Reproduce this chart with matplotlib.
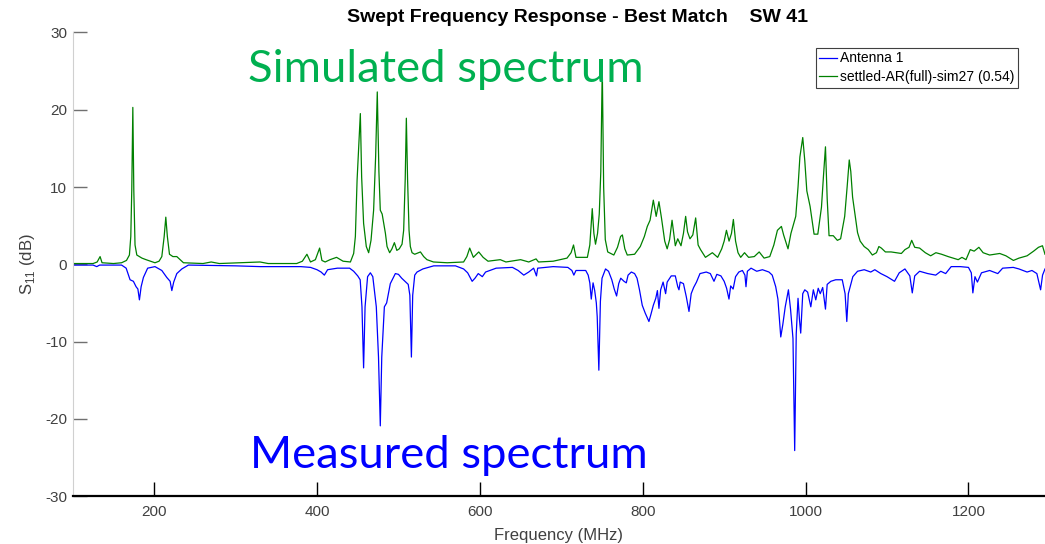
import numpy as np
import matplotlib.pyplot as plt

# Simulated S11 spectrum (frequency in MHz, level in dB)
sim_freq = [100, 125, 130, 133.6, 136, 150, 160, 166, 169.6, 171.3, 172.5, 173.8, 175, 176.5,
            178.7, 185, 190, 201, 206, 209.4, 212.3, 214.3, 216.2, 218.8, 223, 227.8, 232, 236,
            260, 270, 280, 330, 340, 375, 382, 387.6, 392, 398, 403.2, 406, 410, 416, 424, 432,
            441, 445, 447.1, 449.2, 453.2, 454.8, 457.2, 460.5, 463.4, 466.3, 469.5, 472, 474,
            476, 477.7, 480, 484, 486, 489.2, 492, 495, 498, 501, 504.4, 506.4, 508.3, 509.7,
            511.2, 513, 514.6, 516.7, 520, 527, 531, 535, 543, 560, 580, 584, 587.5, 592, 598.6,
            604, 610, 625, 632, 650, 660, 669, 672, 690, 707, 712, 715, 718, 732, 735, 738, 740,
            742, 744.5, 746.6, 748.5, 750.3, 752, 754, 757, 764.5, 769, 772.8, 775, 778, 781,
            790, 797, 802, 805.6, 809, 813, 816.5, 819.9, 823, 827, 830, 833, 836, 840, 843,
            847, 850, 852.7, 855, 858, 861.5, 865, 868, 871, 877, 885.5, 892, 897, 900, 902.8,
            906, 909, 911.3, 914, 917, 920.3, 925, 930, 937, 943, 949, 956, 961, 965.4, 970.3,
            973, 978.4, 982, 985, 987.9, 990.7, 993, 996.5, 999, 1001.5, 1005.5, 1010.4, 1015,
            1019.5, 1022, 1024.4, 1026.5, 1028.8, 1034, 1039, 1043, 1048, 1051, 1053.6, 1055.5,
            1057.7, 1060, 1063.8, 1067, 1071.9, 1077, 1082, 1087, 1090, 1093, 1098, 1105,
            1117.6, 1122, 1127, 1130.3, 1134, 1140, 1147, 1153.6, 1160, 1167, 1175, 1181,
            1187.4, 1192, 1197, 1202.2, 1207, 1212.8, 1218, 1226, 1238.4, 1246, 1255.2, 1262,
            1272, 1280, 1286, 1290.9, 1294]
sim_db = [0.1, 0.1, 0.3, 1.0, 0.2, 0.1, 0.2, 0.5, 1.2, 3.6, 9.6, 20.3, 9.6, 2.5,
          1.2, 0.8, 0.6, 0.2, 0.4, 1.0, 3.6, 6.1, 3.6, 1.3, 1.0, 1.0, 0.6, 0.2,
          0.1, 0.3, 0.1, 0.3, 0.1, 0.1, 0.4, 1.3, 0.3, 0.6, 2.1, 0.5, 0.3, 0.6, 0.9, 0.4,
          0.3, 1.4, 3.6, 10.9, 19.5, 11.3, 5.3, 2.3, 1.5, 3.1, 7.0, 14.0, 22.3,
          12.0, 7.0, 6.5, 4.0, 2.3, 1.5, 2.0, 2.8, 1.8, 2.0, 2.6, 4.4, 11.0, 18.9,
          11.0, 4.4, 2.3, 1.5, 1.3, 1.6, 1.0, 0.6, 0.3, 0.2, 0.3, 1.0, 2.1, 0.9, 1.6,
          0.9, 0.4, 0.6, 0.3, 0.6, 0.3, 0.7, 0.3, 0.4, 0.8, 1.5, 2.5, 0.9, 0.9, 2.5, 7.2, 4.0,
          2.6, 4.0, 6.5, 12.0, 25.5, 10.0, 3.2, 1.6, 1.2, 2.2, 3.6, 3.8, 2.0, 1.2,
          1.3, 2.3, 3.6, 4.9, 5.7, 8.3, 6.2, 8.1, 6.0, 3.0, 2.0, 3.2, 5.7, 2.4, 3.3,
          2.4, 4.0, 6.2, 4.2, 3.3, 3.8, 6.0, 2.5, 1.9, 0.9, 1.5, 0.9, 2.0, 3.0, 4.4,
          3.0, 4.0, 5.8, 3.0, 1.5, 0.9, 1.5, 0.9, 1.0, 1.6, 0.8, 1.0, 2.5, 4.4, 4.9,
          3.8, 2.0, 4.0, 5.1, 6.2, 10.0, 13.9, 16.4, 13.4, 9.5, 7.5, 3.9, 3.9,
          7.4, 11.5, 15.2, 8.5, 3.7, 3.7, 3.1, 3.3, 6.2, 10.0, 13.5, 12.0,
          8.7, 7.0, 4.1, 3.0, 2.3, 1.9, 1.2, 1.5, 2.3, 2.1, 1.6, 1.6,
          1.4, 1.9, 2.2, 3.1, 2.2, 2.1, 1.5, 1.1, 1.5, 1.3, 1.0, 0.8,
          0.6, 0.9, 0.6, 1.9, 1.7, 2.2, 1.5, 1.2, 1.4, 1.1, 0.5, 0.8,
          1.1, 1.7, 2.2, 2.4, 1.3]

# Measured S11 of Antenna 1 (plotted inverted)
meas_freq = [100, 125, 129.5, 133, 160, 165.6, 170.4, 174.5, 177.8, 180, 181.9, 184, 186.8, 192,
             201, 209.4, 215.5, 219.6, 221.7, 224, 227.8, 234, 242, 300, 330, 380, 392, 400,
             405, 409, 413, 425, 440, 445, 450, 453, 455.2, 457.2, 459, 462.1, 465.5, 468.5,
             472.8, 475.5, 477.7, 479.5, 482.7, 485.5, 490, 496.2, 500, 504, 508, 512, 514,
             515.9, 517.5, 520, 522.8, 530, 543.3, 570, 580, 585, 590.5, 594, 598, 603, 607,
             620, 640, 647, 653.9, 660, 666, 669.5, 671, 690, 708, 713, 715.4, 718, 730, 733,
             735, 736.8, 739, 741, 743, 744.1, 746.1, 748, 750, 754.3, 758, 762, 765, 767.9,
             770.5, 773, 777, 779.8, 782, 786, 790, 793, 796, 799.4, 803, 807.6, 810, 813, 816,
             818, 819.9, 822, 825, 828.1, 830, 835, 840, 843, 844.5, 846, 850, 853.5, 856.8,
             859.5, 862.5, 866, 870.3, 878, 883, 887.5, 891, 896, 900, 903, 905.9, 908, 911,
             914, 918, 922.4, 925.5, 926.8, 928.5, 933, 940, 947, 955, 959, 963.3, 966, 969.5,
             972, 975, 978.9, 981.5, 984.5, 986.6, 988.5, 990.7, 992.5, 994, 996.5, 999,
             1002.5, 1006.4, 1009.5, 1012.5, 1015.5, 1018, 1021, 1024.4, 1026.5, 1031, 1037,
             1045, 1048.5, 1050.6, 1052.5, 1058, 1063.8, 1072, 1080, 1085, 1092.4, 1100,
             1109.2, 1115, 1122, 1128, 1131, 1134, 1140, 1150, 1159.8, 1166, 1172, 1178.8,
             1190, 1200, 1203.5, 1205.4, 1208, 1211, 1216, 1226, 1236, 1242, 1255, 1262, 1272,
             1278, 1284, 1288.6, 1291, 1294]
meas_db = [-0.1, -0.1, -0.3, -0.1, -0.1, -0.5, -2.0, -2.2, -2.9, -3.2, -4.6, -2.9, -1.7, -0.5,
           -0.3, -0.8, -1.7, -2.2, -3.4, -2.3, -1.2, -0.6, -0.1, -0.2, -0.3, -0.3, -0.4, -0.7,
           -1.0, -1.4, -0.7, -0.5, -0.5, -0.9, -1.5, -2.0, -5.5, -13.4, -5.5, -1.6, -1.1, -1.6,
           -5.5, -12.0, -20.9, -12.0, -5.5, -5.0, -2.5, -1.2, -1.3, -1.8, -2.2, -2.6, -4.0,
           -12.0, -4.0, -1.4, -1.0, -0.6, -0.2, -0.2, -0.6, -1.1, -2.2, -1.8, -1.2, -1.6, -1.0,
           -0.5, -0.4, -0.8, -1.4, -1.0, -0.5, -1.5, -0.5, -0.3, -0.4, -0.8, -1.4, -0.8, -0.8, -1.4,
           -2.4, -4.5, -2.4, -3.4, -5.0, -6.8, -13.7, -4.8, -1.8, -0.6, -0.9, -2.0, -3.2, -4.1,
           -2.5, -1.8, -2.2, -2.4, -1.4, -1.0, -1.2, -1.8, -3.3, -5.3, -6.3, -7.4, -6.5, -5.3, -4.4,
           -3.4, -5.7, -3.3, -2.3, -3.8, -2.3, -1.5, -1.5, -2.9, -3.3, -2.3, -2.5, -4.2, -6.1,
           -3.8, -3.0, -2.3, -1.2, -1.0, -1.2, -2.2, -1.3, -1.5, -2.2, -3.1, -4.5, -2.8, -3.2,
           -1.6, -1.0, -0.8, -1.4, -2.9, -0.9, -0.5, -0.9, -0.7, -1.0, -1.4, -2.9, -4.5, -9.4,
           -7.8, -5.5, -3.3, -5.8, -9.6, -24.1, -9.0, -4.4, -7.2, -8.9, -3.8, -3.3,
           -3.6, -5.5, -3.3, -4.6, -3.1, -3.8, -3.0, -5.8, -2.6, -2.2, -2.0,
           -2.0, -3.8, -7.4, -3.8, -1.6, -0.9, -0.7, -1.0, -0.7, -1.2, -1.6,
           -2.2, -1.1, -0.6, -1.5, -3.7, -1.5, -0.9, -1.2, -1.4, -0.9, -1.2, -0.3,
           -0.3, -0.4, -1.1, -3.7, -1.6, -2.3, -1.1, -0.8, -1.2, -0.5, -0.4, -0.6, -1.0,
           -0.8, -1.2, -3.3, -1.4, -0.6]

x_ticks = [200, 400, 600, 800, 1000, 1200]
y_ticks = [-30, -20, -10, 0, 10, 20, 30]

plt.rcParams['font.family'] = ['Liberation Sans', 'DejaVu Sans']
plt.rcParams['axes.unicode_minus'] = False

fig = plt.figure(figsize=(10.45, 5.44), dpi=100)
ax = fig.add_axes([0.0696, 0.0879, 0.9304, 0.8525])

ax.plot(meas_freq, meas_db, color='#0000ff', linewidth=0.9, label='Antenna 1')
ax.plot(sim_freq, sim_db, color='#008000', linewidth=0.9,
        label='settled-AR(full)-sim27 (0.54)')

ax.set_xlim(100, 1294)
ax.set_ylim(-30, 30)
ax.set_xticks(x_ticks)
ax.set_yticks(y_ticks)

ax.spines['top'].set_visible(False)
ax.spines['right'].set_visible(False)
ax.spines['left'].set_color('#d0d0d0')
ax.spines['bottom'].set_color('black')
ax.spines['bottom'].set_linewidth(1.6)
ax.tick_params(axis='x', direction='in', length=10, width=1, color='black',
               labelsize=11, labelcolor='#404040', pad=6)
ax.tick_params(axis='y', direction='in', length=10, width=1, color='#707070',
               labelsize=11, labelcolor='#404040', pad=4)

ax.set_xlabel('Frequency (MHz)', fontsize=12, color='#404040', labelpad=7)
ax.set_ylabel(r'S$_{\mathregular{11}}$ (dB)', fontsize=12, color='#404040', labelpad=6)
ax.set_title('Swept Frequency Response - Best Match    SW 41', fontsize=14,
             fontweight='bold', pad=7.5, x=0.5187)

leg = ax.legend(loc='upper right', bbox_to_anchor=(1018 / 1045, 1 - 48 / 544),
                bbox_transform=fig.transFigure, fontsize=10, handlelength=1.3,
                handletextpad=0.2, borderpad=0.25, labelspacing=0.35,
                fancybox=False, framealpha=1, borderaxespad=0)
leg.get_frame().set_edgecolor('#404040')
leg.get_frame().set_linewidth(0.8)

ax.text(248 / 1045, 1 - 82 / 544, 'Simulated spectrum', transform=fig.transFigure,
        fontsize=32.7, color='#00b050', family=['Lato', 'DejaVu Sans'], va='baseline')
ax.text(250 / 1045, 1 - 468 / 544, 'Measured spectrum', transform=fig.transFigure,
        fontsize=32.7, color='#0000ff', family=['Lato', 'DejaVu Sans'], va='baseline')

fig.savefig('out.png', dpi=100)
